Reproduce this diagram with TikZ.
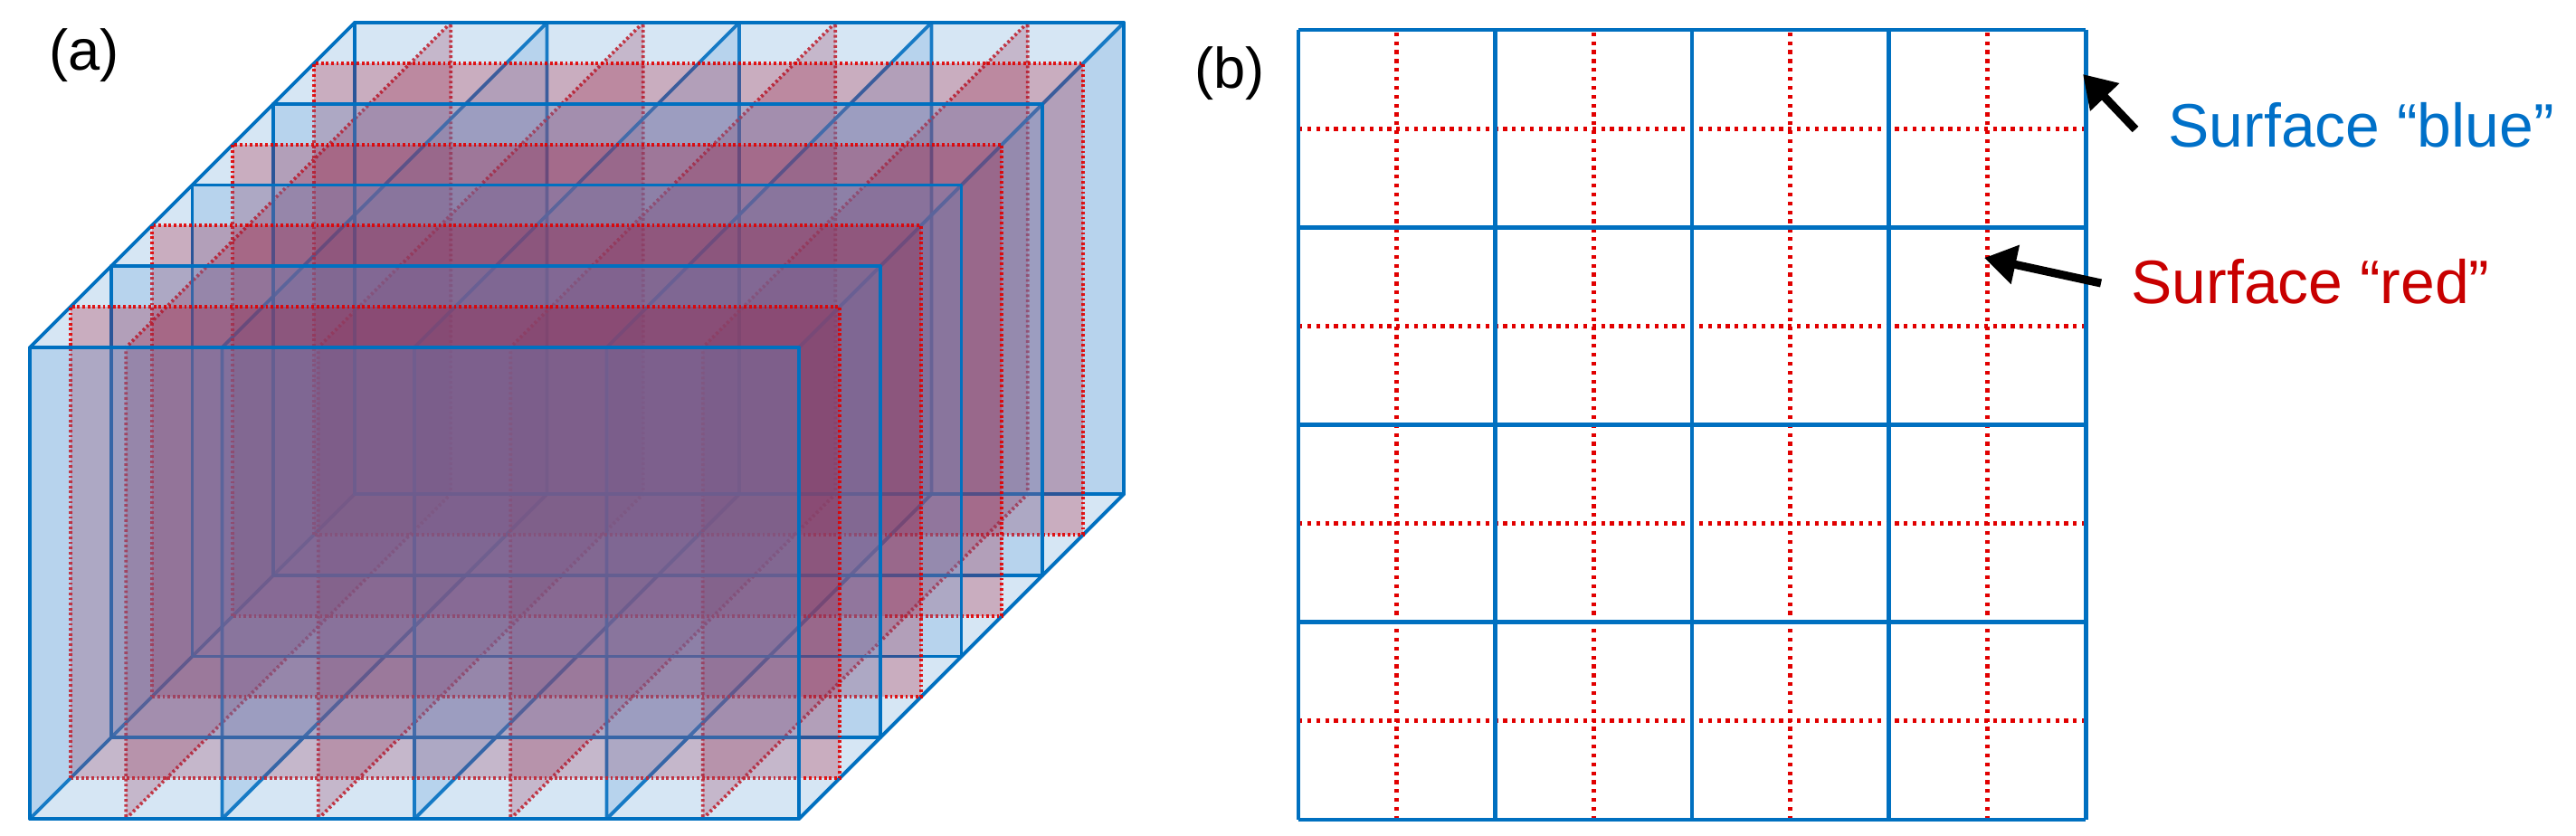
\documentclass[tikz,border=0pt]{standalone}
\usepackage{fontspec}
\setmainfont{Liberation Sans}
\usetikzlibrary{arrows.meta}
\definecolor{bline}{RGB}{0,112,192}
\definecolor{bfill}{RGB}{91,155,213}
\definecolor{rline}{RGB}{225,0,0}
\definecolor{rfill}{RGB}{165,10,40}
\definecolor{btext}{RGB}{0,112,200}
\definecolor{rtext}{RGB}{200,0,0}
\tikzset{
  bplane/.style={fill=bfill,fill opacity=0.25,draw=bline,draw opacity=1,line width=1.1pt,line join=round},
  rplane/.style={fill=rfill,fill opacity=0.26,draw=rline,draw opacity=0.9,line width=1.1pt,dash pattern=on 0.8pt off 0.8pt},
  bgrid/.style={draw=bline,line width=1.4pt},
  rgrid/.style={draw=rline,line width=1.4pt,dash pattern=on 1.2pt off 1.6pt},
  lab/.style={font=\fontsize{19.3}{21}\selectfont,inner sep=0pt,anchor=base west},
  arr/.style={line width=2.6pt,-{Triangle[length=10pt,width=12pt]}}
}
\begin{document}
\begin{tikzpicture}
\useasboundingbox (0,0) rectangle (28.47,9.23);
% ---------- (a) ----------
\node[font=\fontsize{18}{20}\selectfont,anchor=center] (la) at (0.93,8.62) {(a)};
\begin{scope}[shift={(0.33,0.18)},x={(2.125cm,0cm)},y={(0cm,5.21cm)},z={(0.8975cm,0.8975cm)}]
  \foreach \i in {0,...,3}{
    \path[bplane] (\i,0,0) -- (\i,0,4) -- (\i,1,4) -- (\i,1,0) -- cycle;
    \path[rplane] (\i+0.5,0,0) -- (\i+0.5,0,4) -- (\i+0.5,1,4) -- (\i+0.5,1,0) -- cycle;
  }
  \path[bplane] (4,0,0) -- (4,0,4) -- (4,1,4) -- (4,1,0) -- cycle;
  \foreach \k in {4,3,2,1}{
    \path[bplane] (0,0,\k) rectangle (4,1,\k);
    \path[rplane] (0,0,\k-0.5) rectangle (4,1,\k-0.5);
  }
  \path[bplane] (0,0,0) rectangle (4,1,0);
\end{scope}
% ---------- (b) ----------
\node[font=\fontsize{18}{20}\selectfont,anchor=center] (lb) at (13.59,8.42) {(b)};
\begin{scope}[shift={(14.35,0.17)},x={(2.175cm,0cm)},y={(0cm,2.1825cm)}]
  \foreach \i in {0,...,3}{
    \draw[rgrid] (\i+0.5,0) -- (\i+0.5,4);
    \draw[rgrid] (0,\i+0.5) -- (4,\i+0.5);
  }
  \foreach \i in {0,...,4}{
    \draw[bgrid] (\i,0) -- (\i,4);
    \draw[bgrid] (0,\i) -- (4,\i);
  }
\end{scope}
\node[lab,text=btext] (tb) at (23.96,7.60) {Surface “blue”};
\node[lab,text=rtext] (tr) at (23.55,5.88) {Surface “red”};
\coordinate (hb) at (23.02,8.41);
\coordinate (tbt) at (23.60,7.80);
\coordinate (hr) at (21.93,6.38);
\coordinate (trt) at (23.22,6.10);
\draw[arr] (tbt) -- (hb);
\draw[arr] (trt) -- (hr);
\end{tikzpicture}
\end{document}
